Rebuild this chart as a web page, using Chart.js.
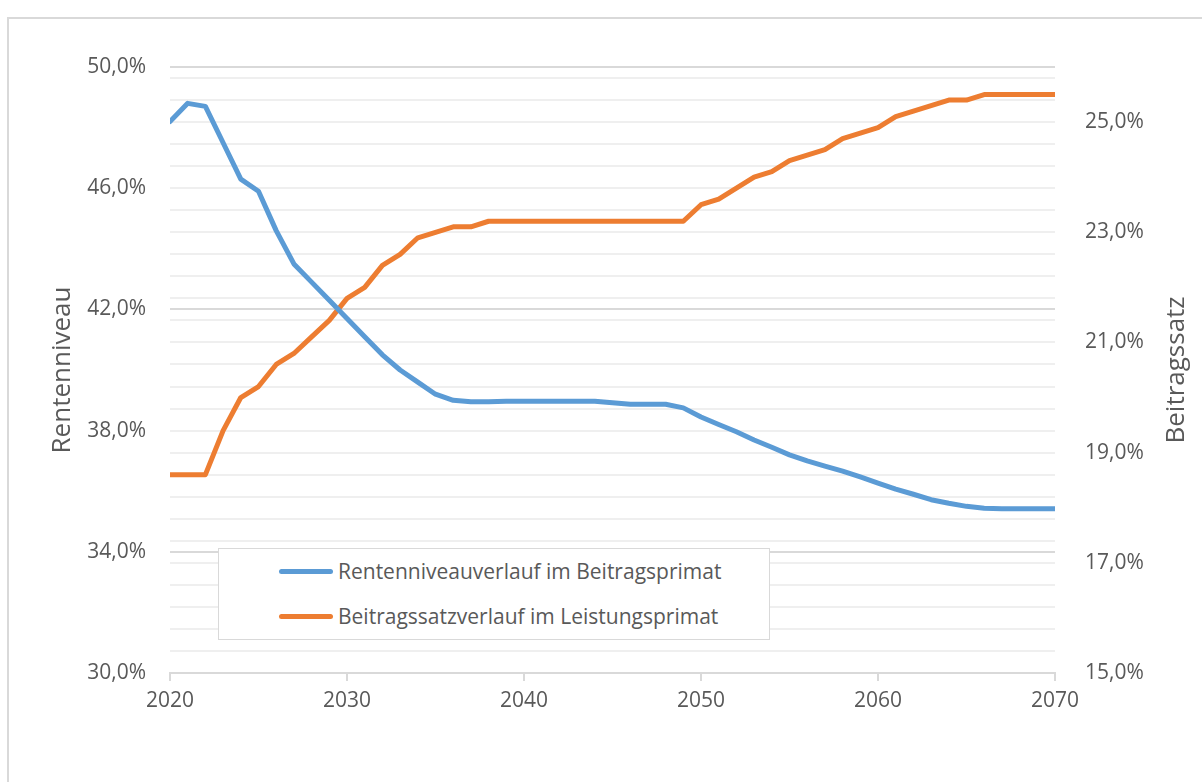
<!DOCTYPE html>
<html>
<head>
<meta charset="utf-8">
<script src="https://cdn.jsdelivr.net/npm/chart.js@4/dist/chart.umd.min.js"></script>
<style>
  html, body { margin: 0; padding: 0; background: #fff; overflow: hidden; }
  #frame { position: absolute; left: 7px; top: 17px; width: 1300px; height: 900px; border: 2px solid #d9d9d9; }
  #chart { position: absolute; left: 0; top: 0; }
  #legend { position: absolute; left: 218px; top: 548px; width: 550px; height: 90px; border: 1px solid #d9d9d9; background: #fff;
            font-family: "Open Sans", sans-serif; font-size: 21px; color: #595959; }
  .item { position: absolute; left: 60px; height: 26px; display: flex; align-items: center; white-space: nowrap; }
  .item span.swatch { display: inline-block; width: 54px; height: 5px; border-radius: 3px; margin-right: 5px; }
</style>
</head>
<body>
<div id="frame"></div>
<canvas id="chart" width="1202" height="782"></canvas>
<div id="legend"></div>
<script>
// Jahre (x-Achse)
const years = [2020, 2021, 2022, 2023, 2024, 2025, 2026, 2027, 2028, 2029,
               2030, 2031, 2032, 2033, 2034, 2035, 2036, 2037, 2038, 2039,
               2040, 2041, 2042, 2043, 2044, 2045, 2046, 2047, 2048, 2049,
               2050, 2051, 2052, 2053, 2054, 2055, 2056, 2057, 2058, 2059,
               2060, 2061, 2062, 2063, 2064, 2065, 2066, 2067, 2068, 2069, 2070];

// Rentenniveau in % (linke Achse)
const rentenniveau = [48.2, 48.8, 48.7, 47.5, 46.3, 45.9, 44.6, 43.5, 42.9, 42.3,
                      41.7, 41.1, 40.5, 40.0, 39.6, 39.2, 39.0, 38.95, 38.95, 38.97,
                      38.97, 38.97, 38.97, 38.97, 38.97, 38.92, 38.87, 38.87, 38.87, 38.75,
                      38.45, 38.2, 37.96, 37.69, 37.45, 37.2, 37.0, 36.83, 36.66, 36.47,
                      36.27, 36.07, 35.9, 35.72, 35.6, 35.5, 35.44, 35.42, 35.42, 35.42, 35.42];

// Beitragssatz in % (rechte Achse)
const beitragssatz = [18.6, 18.6, 18.6, 19.4, 20.0, 20.2, 20.6, 20.8, 21.1, 21.4,
                      21.8, 22.0, 22.4, 22.6, 22.9, 23.0, 23.1, 23.1, 23.2, 23.2,
                      23.2, 23.2, 23.2, 23.2, 23.2, 23.2, 23.2, 23.2, 23.2, 23.2,
                      23.5, 23.6, 23.8, 24.0, 24.1, 24.3, 24.4, 24.5, 24.7, 24.8,
                      24.9, 25.1, 25.2, 25.3, 25.4, 25.4, 25.5, 25.5, 25.5, 25.5, 25.5];

const seriesNames = ["Rentenniveauverlauf im Beitragsprimat", "Beitragssatzverlauf im Leistungsprimat"];
const leftTitle = "Rentenniveau";
const rightTitle = "Beitragssatz";

const grey = "#595959";
const pct = v => v.toFixed(1).replace(".", ",") + "%";

const toPoints = vals => vals.map((v, i) => ({ x: years[i], y: v }));

// Achsentitel, beide von unten nach oben gelesen
const axisTitles = {
    id: "axisTitles",
    afterDraw(chart) {
        const ctx = chart.ctx;
        const a = chart.chartArea;
        const cy = (a.top + a.bottom) / 2;
        ctx.save();
        ctx.fillStyle = grey;
        ctx.font = "26px 'Open Sans'";
        ctx.textAlign = "center";
        ctx.textBaseline = "middle";
        [[63, leftTitle], [1177, rightTitle]].forEach(([x, t]) => {
            ctx.save();
            ctx.translate(x, cy);
            ctx.rotate(-Math.PI / 2);
            ctx.fillText(t, 0, 0);
            ctx.restore();
        });
        ctx.restore();
    }
};

const chart = new Chart(document.getElementById("chart"), {
    type: "line",
    data: {
        datasets: [{
            label: seriesNames[0],
            data: toPoints(rentenniveau),
            yAxisID: "y",
            borderColor: "#5b9bd5",
            backgroundColor: "#5b9bd5",
            borderWidth: 5,
            borderJoinStyle: "round",
            borderCapStyle: "round",
            pointRadius: 0,
            tension: 0
        }, {
            label: seriesNames[1],
            data: toPoints(beitragssatz),
            yAxisID: "y2",
            borderColor: "#ed7d31",
            backgroundColor: "#ed7d31",
            borderWidth: 5,
            borderJoinStyle: "round",
            borderCapStyle: "round",
            pointRadius: 0,
            tension: 0
        }]
    },
    options: {
        responsive: false,
        animation: false,
        layout: { padding: { top: 67, left: 0, right: 0, bottom: 0 } },
        plugins: { legend: { display: false }, tooltip: { enabled: false } },
        scales: {
            x: {
                type: "linear",
                min: 2020,
                max: 2070,
                ticks: {
                    stepSize: 10,
                    color: grey,
                    font: { family: "Open Sans", size: 21 },
                    padding: 7,
                    maxRotation: 0,
                    callback: v => String(v)
                },
                grid: { drawOnChartArea: false, color: "#d9d9d9", lineWidth: 2, tickLength: 8 },
                border: { color: "#d9d9d9", width: 2 },
                afterFit: s => { s.height = 109; }
            },
            y: {
                position: "left",
                min: 30,
                max: 50,
                ticks: {
                    stepSize: 4,
                    color: grey,
                    font: { family: "Open Sans", size: 21 },
                    padding: 24,
                    callback: v => pct(v)
                },
                grid: { color: "#d9d9d9", lineWidth: 2, drawTicks: false },
                border: { display: false },
                afterFit: s => { s.width = 170; }
            },
            y2: {
                position: "right",
                z: -1,
                min: 15,
                max: 26,
                afterBuildTicks: s => {
                    const t = [];
                    for (let k = 0; k <= 27; k++) t.push({ value: Math.round((15 + k * 0.4) * 10) / 10 });
                    s.ticks = t;
                },
                ticks: {
                    autoSkip: false,
                    color: grey,
                    font: { family: "Open Sans", size: 21 },
                    padding: 30,
                    callback: v => {
                        const q = (v - 15) / 2;
                        return Math.abs(q - Math.round(q)) < 1e-6 ? pct(v) : "";
                    }
                },
                grid: { color: "#efefef", lineWidth: 2, drawTicks: false },
                border: { display: false },
                afterFit: s => { s.width = 147; }
            }
        }
    },
    plugins: [axisTitles]
});

// Legende als HTML-Kasten im Diagramm
const legend = document.getElementById("legend");
chart.data.datasets.forEach((ds, i) => {
    const item = document.createElement("div");
    item.className = "item";
    item.style.top = (9 + i * 45) + "px";
    const sw = document.createElement("span");
    sw.className = "swatch";
    sw.style.background = ds.borderColor;
    item.appendChild(sw);
    item.appendChild(document.createTextNode(ds.label));
    legend.appendChild(item);
});
</script>
</body>
</html>
